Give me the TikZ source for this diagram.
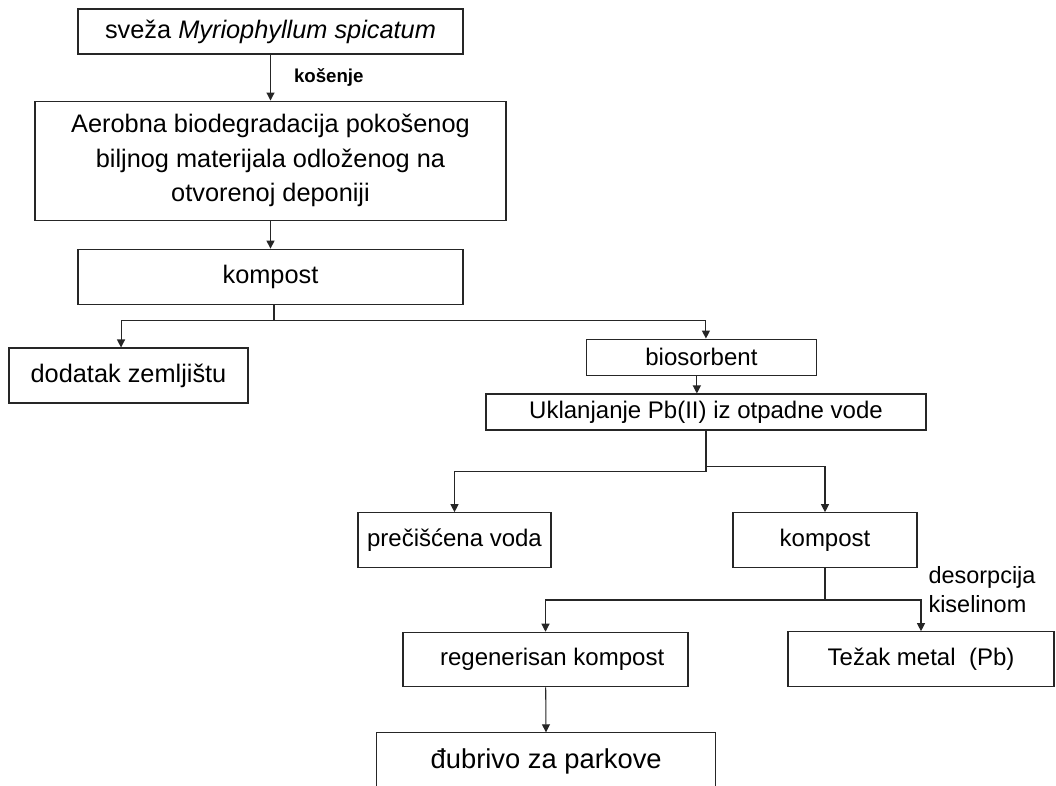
\documentclass[tikz,border=0pt]{standalone}
\usepackage{fontspec}
\setmainfont{Liberation Sans}
\usetikzlibrary{positioning,arrows.meta}

\begin{document}
\begin{tikzpicture}[
    x=0.75pt, y=-0.75pt,
    font=\fontsize{19}{26}\selectfont,
    box/.style={rectangle, draw=black!85, line width=0.8pt, inner sep=0pt,
      align=center, minimum height=41.25pt},
    lowbox/.style={box, font=\fontsize{18}{22}\selectfont},
    note/.style={inner sep=0pt, align=left},
    line/.style={draw=black!85, line width=0.8pt},
    >={Triangle[length=6pt,width=6pt]}
  ]
    \useasboundingbox (0,0) rectangle (1056,785);
    \fill[white] (0,0) rectangle (1056,785);

    \node[box, minimum width=288.75pt, minimum height=33.75pt] (sveza) at (270.5,31.5) {sveža \textit{Myriophyllum spicatum}};
    \node[box, minimum width=353.25pt, minimum height=89.25pt, below=34.5pt of sveza] (aerob) {Aerobna biodegradacija pokošenog\\biljnog materijala odloženog na\\otvorenoj deponiji};
    \node[box, minimum width=288.75pt, below=21pt of aerob] (kompost) {kompost};
    \node[box, minimum width=179.25pt] (dodatak) at (128.5,375.5) {dodatak zemljištu};
    \node[lowbox, minimum width=172pt, minimum height=27.2pt] (bio) at (701.4,357.2) {biosorbent};
    \node[lowbox, minimum width=330pt, minimum height=27pt] (uklanj) at (706,412) {Uklanjanje Pb(II) iz otpadne vode};
    \node[lowbox, minimum width=144.75pt] (precisc) at (454.5,540.2) {prečišćena voda};
    \node[lowbox, minimum width=138pt] (komp2) at (825,540.2) {kompost};
    \node[lowbox, minimum width=213.75pt, minimum height=41pt] (regen) at (545.5,659.6) {\ \ regenerisan kompost};
    \node[lowbox, minimum width=199.5pt] (tezak) at (921,659.2) {Težak metal\ \ (Pb)};
    \node[box, minimum width=254.25pt, minimum height=42.75pt, font=\fontsize{20.5}{24}\selectfont] (dubr) at (546.2,761.3) {đubrivo za parkove};

    \coordinate (j1) at (274,320.7);
    \coordinate (j2) at (706,471.7);
    \coordinate (j3) at (706,466.7);
    \coordinate (j4) at (825,600);
    \coordinate (d1) at ([xshift=-5.6pt]dodatak.north);
    \coordinate (b0) at ([xshift=3.4pt]bio.north);
    \coordinate (b1) at ([xshift=-3.4pt]bio.south);

    \draw[line,->] (sveza) -- node[note, right=17.25pt, font=\bfseries\fontsize{14}{16}\selectfont] {košenje} (aerob);
    \draw[line,->] (aerob) -- (kompost);
    \draw[line] (kompost.south -| j1) -- (j1);
    \draw[line,->] (j1) -| (d1);
    \draw[line,->] (j1) -| (b0);
    \draw[line,->] (b1) -- (b1 |- uklanj.north);
    \draw[line] (uklanj.south) -- (j2);
    \draw[line,->] (j2) -| (precisc.north);
    \draw[line,->] (j3) -| (komp2.north);
    \draw[line] (komp2.south) -- (j4);
    \draw[line,->] (j4) -| (regen.north);
    \draw[line,->] (j4) -| node[pos=0.5, note, anchor=west, xshift=5.25pt, yshift=7.5pt, font=\fontsize{17.6}{21.75}\selectfont] {desorpcija\\kiselinom} (tezak.north);
    \draw[line,->] (regen) -- (dubr);
  \end{tikzpicture}
\end{document}
